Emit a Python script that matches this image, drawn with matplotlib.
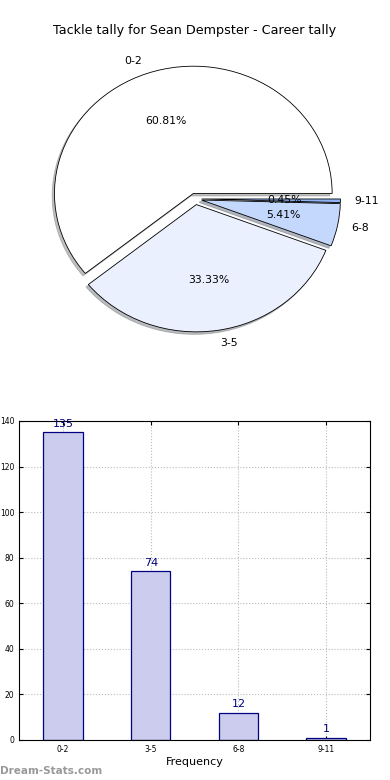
import numpy as np
import matplotlib
matplotlib.use("Agg")
import matplotlib.pyplot as plt

# data
bins = ["0-2", "3-5", "6-8", "9-11"]
counts = [135, 74, 12, 1]
pie_colors = ["#ffffff", "#eaf0fd", "#c4d8fd", "#8fb3f5"]

fig = plt.figure(figsize=(3.9, 7.8), dpi=100)

# pie
ax1 = fig.add_axes([0.056, 0.541, 0.89, 0.408])
wedges, texts, autotexts = ax1.pie(counts, labels=bins, colors=pie_colors,
                                   explode=[0.045] * len(counts),
                                   shadow={"ox": -0.012, "oy": -0.014, "shade": 0.5},
                                   autopct="%.2f%%", startangle=0,
                                   labeldistance=1.1, pctdistance=0.6,
                                   wedgeprops=dict(edgecolor="black", linewidth=0.6),
                                   textprops=dict(fontsize=7.8))
ax1.set_aspect("auto")
ax1.set_xlim(-1.25, 1.25)
ax1.set_ylim(-1.25, 1.25)
fig.text(0.5, 0.961, "Tackle tally for Sean Dempster - Career tally",
         ha="center", va="center", fontsize=9.2)

# bars
ax2 = fig.add_axes([0.049, 0.0513, 0.9, 0.409])
x = np.arange(len(bins))
ax2.bar(x, counts, width=0.45, facecolor="#ccccee", edgecolor="navy", linewidth=0.9, zorder=2)
for xi, c in zip(x, counts):
    ax2.text(xi, c + 1.5, str(c), ha="center", va="bottom", fontsize=8, color="navy")
ax2.set_xlim(-0.5, 3.5)
ax2.set_ylim(0, 140)
ax2.set_yticks(np.arange(0, 141, 20))
ax2.set_xticks(x)
ax2.set_xticklabels(bins)
ax2.tick_params(labelsize=5.5, direction="in", length=3, top=True, right=True)
ax2.grid(True, linestyle=":", color="#bbbbbb", linewidth=0.8, zorder=3)
ax2.set_xlabel("Frequency", fontsize=8, labelpad=2)

fig.text(0.0, 0.012, "Dream-Stats.com", ha="left", va="center", fontsize=7.5,
         color="#999999", fontweight="bold")

fig.savefig("out.png", dpi=100)
